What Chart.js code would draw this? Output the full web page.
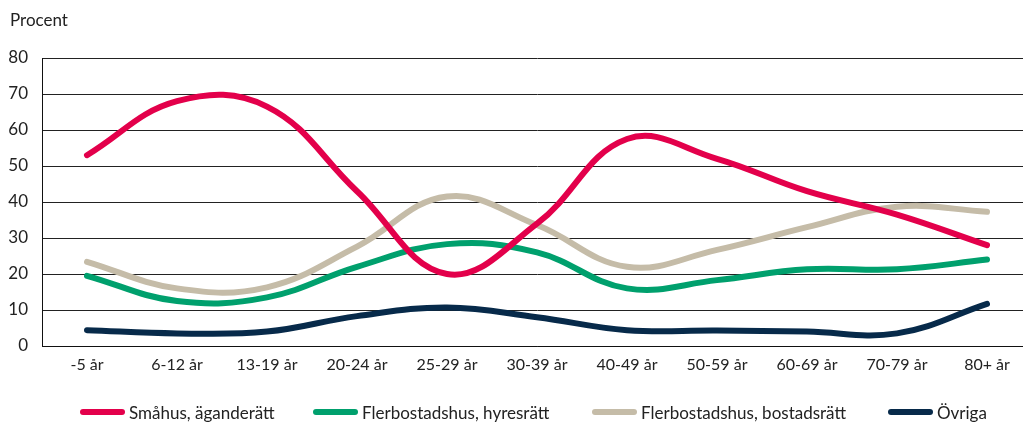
<!DOCTYPE html>
<html lang="sv">
<head>
<meta charset="utf-8">
<script src="https://cdn.jsdelivr.net/npm/chart.js@4/dist/chart.umd.min.js"></script>
<style>
  html, body { margin: 0; padding: 0; background: #fff; overflow: hidden; }
  body { width: 1023px; height: 424px; position: relative; font-family: Lato, "Open Sans", sans-serif; color: #222; }
  #wrap { position: absolute; left: 0; top: 0; width: 1032px; height: 424px; }
  #ytitle { position: absolute; left: 10px; top: 10px; font-size: 17px; line-height: 20px; }
  .leg { position: absolute; top: 402px; height: 20px; display: flex; align-items: center; font-size: 17px; white-space: nowrap; }
  .leg i { display: inline-block; width: 45px; height: 6px; border-radius: 3px; margin-right: 4px; }
</style>
</head>
<body>
<div id="wrap"><canvas id="chart"></canvas></div>
<div id="ytitle">Procent</div>
<div id="legend"></div>
<script>
// Åldersgrupper (x-axel)
const categories = ["-5 år", "6-12 år", "13-19 år", "20-24 år", "25-29 år", "30-39 år", "40-49 år", "50-59 år", "60-69 år", "70-79 år", "80+ år"];

// Serier, procent
const smahus = [53, 68, 66.5, 43, 20, 34, 57.5, 52, 43, 36.5, 28];
const hyresratt = [19.5, 12.5, 13.5, 22, 28.3, 26, 16, 18.3, 21.3, 21.3, 24];
const bostadsratt = [23.4, 16, 16.3, 27.6, 41.5, 33.6, 22, 26.7, 33, 38.7, 37.3];
const ovriga = [4.4, 3.5, 4, 8.3, 10.7, 8, 4.4, 4.3, 4, 3.5, 11.7];

const seriesNames = ["Småhus, äganderätt", "Flerbostadshus, hyresrätt", "Flerbostadshus, bostadsrätt", "Övriga"];
const seriesColors = ["#e3004b", "#00a06d", "#c5bca8", "#072a4a"];
const legendLeft = [80, 313, 592, 888];

const yTicks = [0, 10, 20, 30, 40, 50, 60, 70, 80];

const makeDataset = (label, data, color) => ({
  label: label,
  data: data,
  borderColor: color,
  backgroundColor: color,
  borderWidth: 6,
  borderCapStyle: "round",
  borderJoinStyle: "round",
  pointRadius: 0,
  pointHoverRadius: 0,
  tension: 0.4,
  fill: false,
});

const datasets = [smahus, hyresratt, bostadsratt, ovriga].map((d, i) =>
  makeDataset(seriesNames[i], d, seriesColors[i])
);

// Förklaring som vanlig text under diagrammet
const legendEl = document.getElementById("legend");
seriesNames.forEach((name, i) => {
  const item = document.createElement("div");
  item.className = "leg";
  item.style.left = legendLeft[i] + "px";
  item.innerHTML = '<i style="background:' + seriesColors[i] + '"></i><span></span>';
  item.querySelector("span").textContent = name;
  legendEl.appendChild(item);
});

const ctx = document.getElementById("chart").getContext("2d");
new Chart(ctx, {
  type: "line",
  data: {
    labels: categories,
    datasets: datasets,
  },
  options: {
    responsive: true,
    maintainAspectRatio: false,
    animation: false,
    layout: { padding: { top: 58, left: 0, right: 0, bottom: 0 } },
    plugins: {
      legend: { display: false },
      tooltip: { enabled: false },
    },
    scales: {
      x: {
        offset: true,
        grid: { display: false, drawTicks: false },
        border: { display: true, color: "#111", width: 1 },
        ticks: {
          color: "#222",
          padding: 9,
          maxRotation: 0,
          autoSkip: false,
          font: { family: "Lato", size: 16 },
        },
        afterFit: (scale) => {
          scale.height = 78;
        },
      },
      y: {
        min: 0,
        max: 80,
        afterBuildTicks: (scale) => {
          scale.ticks = yTicks.map((v) => ({ value: v }));
        },
        grid: { color: "#222", lineWidth: 1, drawTicks: false },
        border: { display: true, color: "#111", width: 1 },
        ticks: {
          color: "#222",
          padding: 14,
          font: { family: "Lato", size: 17 },
        },
        afterFit: (scale) => {
          scale.width = 42;
        },
      },
    },
  },
});
</script>
</body>
</html>
